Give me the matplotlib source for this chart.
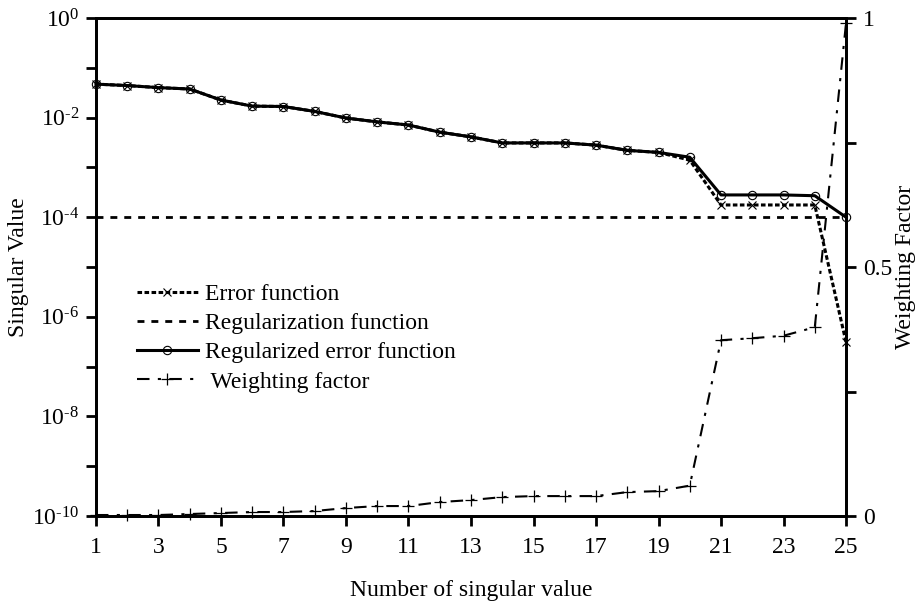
import numpy as np
import matplotlib.pyplot as plt

plt.rcParams['font.family'] = ['Liberation Serif', 'DejaVu Serif']
plt.rcParams['mathtext.fontset'] = 'custom'
plt.rcParams['mathtext.rm'] = 'Liberation Serif'
plt.rcParams['mathtext.it'] = 'Liberation Serif'

# data
n = list(range(1, 26))
error_fn = [0.047, 0.044, 0.040, 0.0375, 0.0225, 0.017, 0.0167, 0.0133, 0.0098, 0.0082,
            0.0071, 0.0051, 0.0041, 0.0031, 0.0031, 0.0031, 0.0028, 0.0022, 0.0020, 0.0014,
            1.76e-4, 1.76e-4, 1.76e-4, 1.76e-4, 3.1e-7]
reg_fn = [1e-4] * 25
reg_error_fn = [0.047, 0.044, 0.040, 0.0375, 0.0225, 0.017, 0.0167, 0.0133, 0.0098, 0.0082,
                0.0071, 0.0051, 0.0041, 0.0031, 0.0031, 0.0031, 0.0028, 0.0022, 0.0020, 0.0016,
                2.8e-4, 2.8e-4, 2.8e-4, 2.7e-4, 1.0e-4]
weight = [0.002, 0.002, 0.002, 0.004, 0.006, 0.008, 0.008, 0.010, 0.016, 0.020,
          0.020, 0.028, 0.032, 0.038, 0.040, 0.040, 0.040, 0.048, 0.050, 0.061,
          0.353, 0.357, 0.362, 0.379, 0.99]

xticks = list(range(1, 26, 2))
decades = list(range(0, -11, -1))
fs = 17

fig = plt.figure(figsize=(9.2, 6.06), dpi=100)
ax = fig.add_axes([0.1043, 0.1485, 0.8153, 0.8218])
ax2 = ax.twinx()

l1, = ax.plot(n, error_fn, color='k', lw=2.2, ls=(0, (1.5, 0.8)), marker='x', ms=6,
              mew=0.8, clip_on=False, zorder=4)
l2, = ax.plot(n, reg_fn, color='k', lw=2.0, ls=(0, (2.5, 2.5)), clip_on=False, zorder=3)
l3, = ax.plot(n, reg_error_fn, color='k', lw=2.2, marker='o', ms=6, mfc='none',
              mew=0.8, clip_on=False, zorder=5)
l4, = ax2.plot(n, weight, color='k', lw=1.5, ls=(0, (6, 4, 1.5, 4)), marker='+', ms=9,
               mew=0.9, clip_on=False)

ax.set_yscale('log')
ax.set_ylim(1e-10, 1)
ax.set_xlim(1, 25)
ax.set_xticks(xticks)
ax.set_yticks([10.0 ** k for k in decades])
ax.set_yticklabels([(r'$10^{\text{-}%d}$' % -k if k < 0 else '$10^{0}$') if k % 2 == 0 else ''
                    for k in decades])
ax.yaxis.set_minor_locator(plt.NullLocator())
ax2.set_ylim(0, 1)
ax2.set_yticks([0, 0.25, 0.5, 0.75, 1])
ax2.set_yticklabels(['0', '', '0.5', '', '1'])

for a in (ax, ax2):
    for s in a.spines.values():
        s.set_linewidth(2)
    a.tick_params(direction='out', length=7, width=2, labelsize=fs, pad=5)
ax.tick_params(axis='x', pad=8)

ax.set_xlabel('Number of singular value', fontsize=fs, labelpad=16)
ax.set_ylabel('Singular Value', fontsize=fs, labelpad=2)
ax2.set_ylabel('Weighting Factor', fontsize=fs, labelpad=2)

ax.legend([l1, l2, l3, l4],
          ['Error function', 'Regularization function', 'Regularized error function',
           ' Weighting factor'],
          loc='upper left', bbox_to_anchor=(0.026, 0.51), frameon=False, fontsize=fs,
          handlelength=2.6, handletextpad=0.3, labelspacing=0.33)

fig.savefig('out.png', dpi=100)
